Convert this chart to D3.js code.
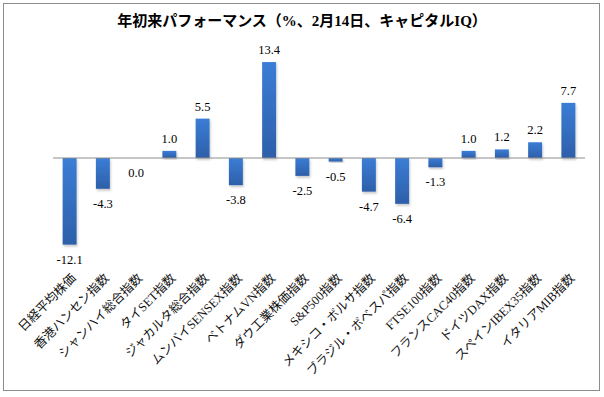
<!DOCTYPE html>
<html>
<head>
<meta charset="utf-8">
<script src="https://cdn.jsdelivr.net/npm/d3@7"></script>
<style>
  body { margin: 0; background: #fff; }
  svg { display: block; }
  text { font-family: "Liberation Serif", "Noto Sans CJK JP", serif; fill: #000; }
</style>
</head>
<body>
<svg width="604" height="397"></svg>
<script>
'use strict'

const TITLE = '年初来パフォーマンス（%、2月14日、キャピタルIQ）';
const categories = [
  '日経平均株価', '香港ハンセン指数', 'シャンハイ総合指数', 'タイSET指数',
  'ジャカルタ総合指数', 'ムンバイSENSEX指数', 'ベトナムVN指数', 'ダウ工業株価指数',
  'S&P500指数', 'メキシコ・ボルサ指数', 'ブラジル・ボベスパ指数', 'FTSE100指数',
  'フランスCAC40指数', 'ドイツDAX指数', 'スペインIBEX35指数', 'イタリアMIB指数'
];
const values = [-12.1, -4.3, 0.0, 1.0, 5.5, -3.8, 13.4, -2.5, -0.5, -4.7, -6.4, -1.3, 1.0, 1.2, 2.2, 7.7];

const svg = d3.select('svg');

// frame
svg.append('rect')
  .attr('x', 3.5).attr('y', 3.5)
  .attr('width', 596).attr('height', 387)
  .attr('fill', '#fff')
  .attr('stroke', '#8c8c8c');

// gradient + shadow
const defs = svg.append('defs');
const grad = defs.append('linearGradient')
  .attr('id', 'barGrad')
  .attr('x1', 0).attr('y1', 0).attr('x2', 0).attr('y2', 1);
grad.append('stop').attr('offset', '0%').attr('stop-color', '#3b7dd6');
grad.append('stop').attr('offset', '100%').attr('stop-color', '#2d5fa9');

const shadow = defs.append('filter').attr('id', 'shadow')
  .attr('x', '-50%').attr('y', '-20%').attr('width', '200%').attr('height', '140%');
shadow.append('feDropShadow')
  .attr('dx', 1).attr('dy', 2).attr('stdDeviation', 1.2)
  .attr('flood-color', '#000').attr('flood-opacity', 0.2);

const x = d3.scaleBand()
  .domain(categories)
  .range([53, 585])
  .paddingInner(0.58)
  .paddingOuter(0.29);

const y = d3.scaleLinear()
  .domain([-15, 15])
  .range([265.4, 50.6]);

// title
svg.append('text')
  .attr('x', 302).attr('y', 26)
  .attr('text-anchor', 'middle')
  .style('font-size', '15px')
  .style('font-weight', 'bold')
  .text(TITLE);

// bars
svg.append('g')
  .selectAll('rect')
  .data(values)
  .join('rect')
  .attr('x', (d, i) => x(categories[i]))
  .attr('width', x.bandwidth())
  .attr('y', d => y(Math.max(0, d)))
  .attr('height', d => Math.abs(y(d) - y(0)))
  .attr('fill', 'url(#barGrad)')
  .attr('filter', 'url(#shadow)');

// zero line
svg.append('line')
  .attr('x1', 53).attr('x2', 585)
  .attr('y1', y(0)).attr('y2', y(0))
  .attr('stroke', '#8c8c8c')
  .attr('stroke-width', 1);

// value labels
svg.append('g')
  .selectAll('text')
  .data(values)
  .join('text')
  .attr('x', (d, i) => x(categories[i]) + x.bandwidth() / 2)
  .attr('y', d => d > 0 ? y(d) - 8 : y(d) + 19)
  .attr('text-anchor', 'middle')
  .style('font-size', '12.5px')
  .text(d => d.toFixed(1));

// category labels
svg.append('g')
  .selectAll('text')
  .data(categories)
  .join('text')
  .attr('transform', d => `translate(${x(d) + x.bandwidth() / 2 + 7},279) rotate(-45)`)
  .attr('text-anchor', 'end')
  .style('font-size', '12.5px')
  .style('fill', '#111')
  .text(d => d);
</script>
</body>
</html>
